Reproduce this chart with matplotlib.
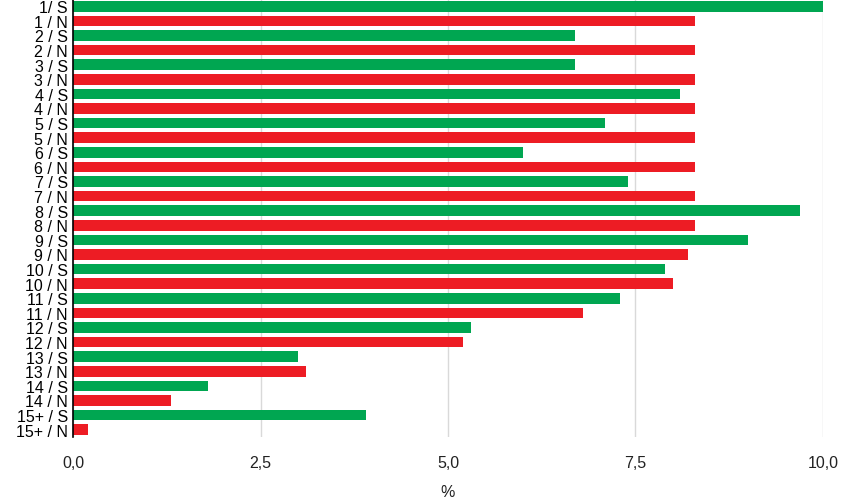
import matplotlib.pyplot as plt
from matplotlib.ticker import FuncFormatter

plt.rcParams['font.family'] = ['Liberation Sans', 'DejaVu Sans']

labels = ["1/ S", "1 / N", "2 / S", "2 / N", "3 / S", "3 / N", "4 / S", "4 / N",
          "5 / S", "5 / N", "6 / S", "6 / N", "7 / S", "7 / N", "8 / S", "8 / N",
          "9 / S", "9 / N", "10 / S", "10 / N", "11 / S", "11 / N", "12 / S", "12 / N",
          "13 / S", "13 / N", "14 / S", "14 / N", "15+ / S", "15+ / N"]
values = [10.0, 8.3, 6.7, 8.3, 6.7, 8.3, 8.1, 8.3,
          7.1, 8.3, 6.0, 8.3, 7.4, 8.3, 9.7, 8.3,
          9.0, 8.2, 7.9, 8.0, 7.3, 6.8, 5.3, 5.2,
          3.0, 3.1, 1.8, 1.3, 3.9, 0.2]
ticks = [0, 2.5, 5.0, 7.5, 10.0]

green = "#00a651"
red = "#ed1c24"
colors = [green if l.endswith("S") else red for l in labels]

fig = plt.figure(figsize=(8.41, 5.02), dpi=100)
ax = fig.add_axes([0.0872, 0.1275, 0.8911, 0.8725])

ax.barh(range(len(values)), values, height=0.72, color=colors, zorder=2)
ax.set_ylim(len(values) - 0.5, -0.5)
ax.set_xlim(0, 10)
ax.set_yticks(range(len(labels)))
ax.set_yticklabels(labels, fontsize=11.5)
ax.set_xticks(ticks)
ax.xaxis.set_major_formatter(FuncFormatter(lambda v, p: f"{v:.1f}".replace(".", ",")))
ax.tick_params(axis="x", length=0, labelsize=11.5, pad=13, colors="#222222")
ax.tick_params(axis="y", length=0, pad=4)
ax.grid(axis="x", color="#d9d9d9", linewidth=1, zorder=0)
for s in ["top", "right", "bottom"]:
    ax.spines[s].set_visible(False)
ax.spines["left"].set_color("black")
ax.spines["left"].set_linewidth(1.2)
ax.spines["left"].set_zorder(3)
ax.set_xlabel("%", fontsize=11.5, labelpad=10, color="#222222")

fig.savefig("out.png", dpi=100)
